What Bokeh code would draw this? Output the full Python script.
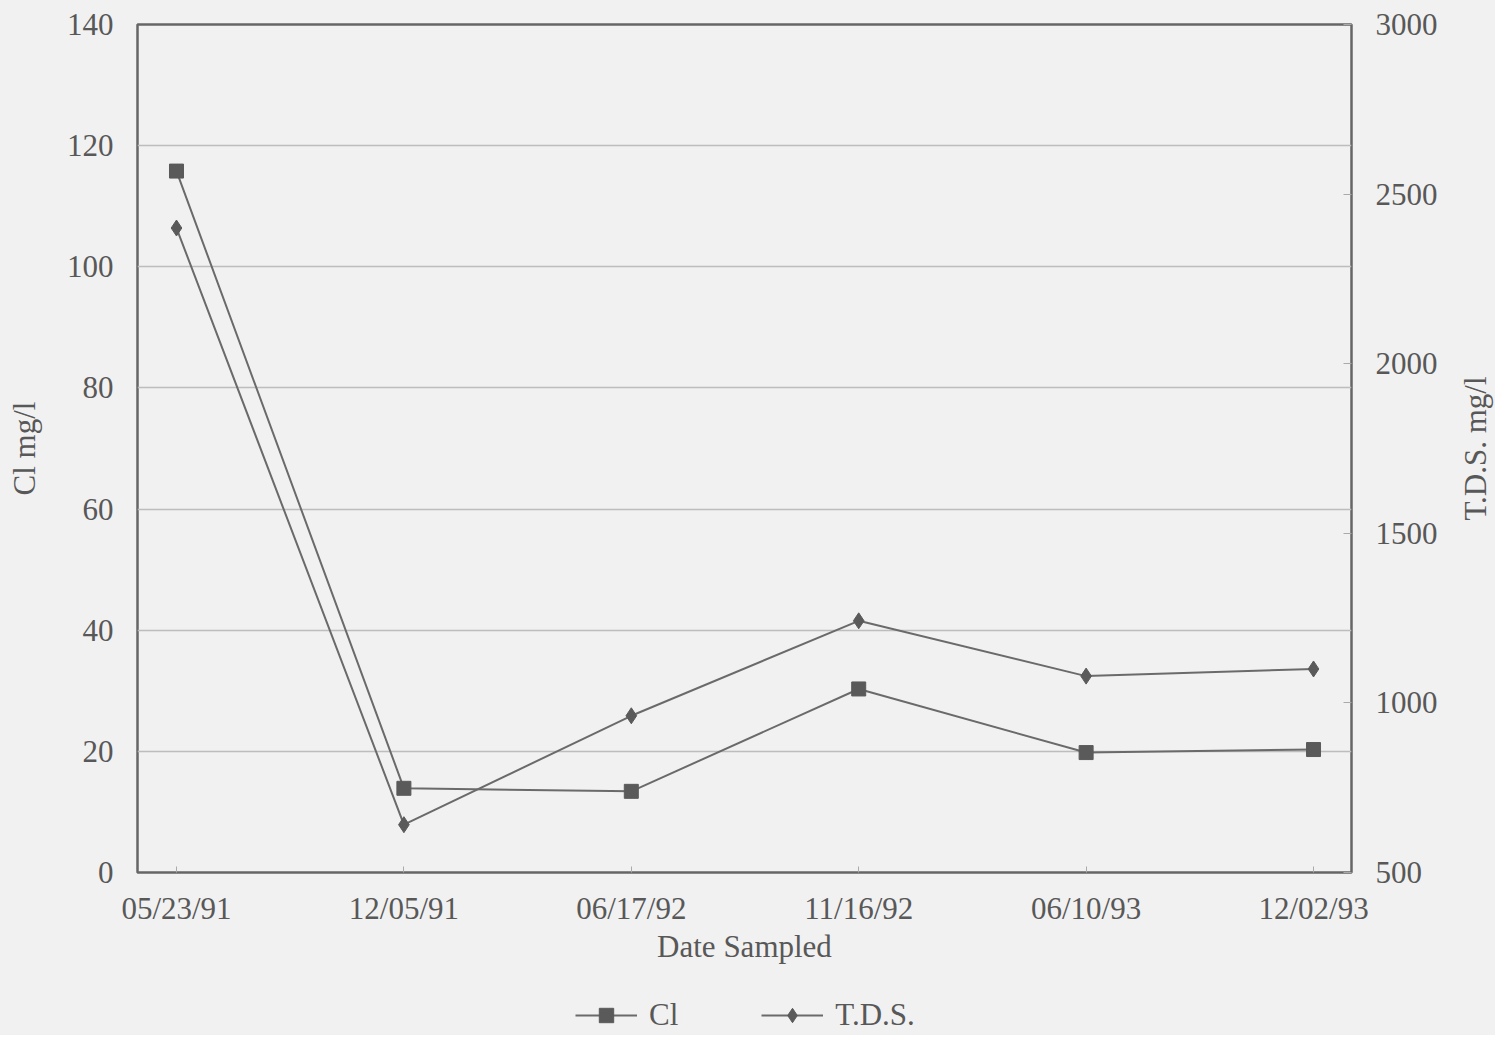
from bokeh.plotting import figure
from bokeh.layouts import row, column
from bokeh.models import (Range1d, LinearAxis, FixedTicker, Legend, LegendItem,
                          Label, ColumnDataSource)
from bokeh.embed import file_html
from bokeh.resources import INLINE
import math

# ---- data ----
dates = ["05/23/91", "12/05/91", "06/17/92", "11/16/92", "06/10/93", "12/02/93"]
cl_values = [115.8, 13.9, 13.4, 30.3, 19.8, 20.3]
tds_values = [2400, 641, 962, 1242, 1079, 1100]
cl_ticks = [0, 20, 40, 60, 80, 100, 120, 140]
tds_ticks = [500, 1000, 1500, 2000, 2500, 3000]

FONT = "Liberation Serif"
FS = "31px"
TXT = "#585858"
BG = "#f1f1f1"
LINE = "#6a6a6a"
MARK = "#5a5a5a"

xs = list(range(len(dates)))
src = ColumnDataSource(dict(x=xs, cl=cl_values, tds=tds_values))

TOP, BOTTOM, FH = 24, 103, 848

p = figure(frame_width=1214, frame_height=FH, output_backend="svg", toolbar_location=None,
           x_range=Range1d(-0.1715, 5.167), y_range=Range1d(0, 140),
           min_border_left=137, min_border_right=104, min_border_top=TOP,
           min_border_bottom=BOTTOM,
           background_fill_color=BG, border_fill_color=BG,
           outline_line_color="#666666", outline_line_width=2.5)
p.extra_y_ranges = {"tds": Range1d(500, 3000)}

# grid
p.xgrid.visible = False
p.ygrid.ticker = FixedTicker(ticks=cl_ticks)
p.ygrid.grid_line_color = "#bdbdbd"
p.ygrid.grid_line_width = 1.5

# x axis
xa = p.xaxis[0]
xa.ticker = FixedTicker(ticks=xs)
xa.major_label_overrides = {i: d for i, d in enumerate(dates)}
xa.axis_label = "Date Sampled"
xa.major_tick_in = 6
xa.major_tick_out = 0
xa.minor_tick_line_color = None
xa.major_tick_line_color = "#aaaaaa"
xa.axis_line_color = None
xa.major_label_standoff = 18
xa.axis_label_standoff = 0

# left axis
ya = p.yaxis[0]
ya.ticker = FixedTicker(ticks=cl_ticks)
ya.axis_label = "Cl mg/l"
ya.major_tick_in = 0
ya.major_tick_out = 0
ya.minor_tick_line_color = None
ya.axis_line_color = None
ya.major_label_standoff = 24
ya.axis_label_standoff = 22

# right axis
ra = LinearAxis(y_range_name="tds", ticker=FixedTicker(ticks=tds_ticks))
ra.major_tick_in = 8
ra.major_tick_out = 0
ra.major_tick_line_color = "#aaaaaa"
ra.minor_tick_line_color = None
ra.axis_line_color = None
ra.major_label_standoff = 24
p.add_layout(ra, "right")

for ax in (xa, ya, ra):
    ax.major_label_text_font = FONT
    ax.major_label_text_font_size = FS
    ax.major_label_text_color = TXT
    ax.axis_label_text_font = FONT
    ax.axis_label_text_font_size = FS
    ax.axis_label_text_font_style = "normal"
    ax.axis_label_text_color = TXT

# series
line_kw = dict(line_color=LINE, line_width=2)
sq_kw = dict(marker="square", size=14, fill_color=MARK, line_color=MARK)
di_kw = dict(marker="diamond", size=16, fill_color=MARK, line_color=MARK)

p.line("x", "cl", source=src, **line_kw)
p.scatter("x", "cl", source=src, **sq_kw)
p.line("x", "tds", source=src, y_range_name="tds", **line_kw)
p.scatter("x", "tds", source=src, y_range_name="tds", **di_kw)

# right-hand axis title, reading bottom-to-top, centred on the frame
rlab = figure(width=40, frame_height=FH, output_backend="svg", toolbar_location=None,
              x_range=Range1d(0, 1), y_range=Range1d(0, 140),
              x_axis_location=None, y_axis_location=None,
              min_border_left=0, min_border_right=0, min_border_top=TOP,
              min_border_bottom=BOTTOM, outline_line_color=None,
              background_fill_color=BG, border_fill_color=BG)
rlab.grid.visible = False
rlab.add_layout(Label(x=0.5, y=70, text="T.D.S. mg/l", angle=math.pi / 2,
                      text_align="center", text_baseline="middle",
                      text_font=FONT, text_font_size=FS, text_color=TXT))

# legend strip (its renderers share the data but lie outside this strip's view)
leg = figure(width=1495, height=60, output_backend="svg", toolbar_location=None,
             x_range=Range1d(-20, -19), y_range=Range1d(-20, -19),
             x_axis_location=None, y_axis_location=None, min_border=0,
             outline_line_color=None, background_fill_color=BG, border_fill_color=BG)
leg.grid.visible = False
l1 = leg.line("x", "cl", source=src, **line_kw)
m1 = leg.scatter("x", "cl", source=src, **sq_kw)
l2 = leg.line("x", "tds", source=src, **line_kw)
m2 = leg.scatter("x", "tds", source=src, **di_kw)
legend = Legend(items=[LegendItem(label="Cl", renderers=[l1, m1]),
                       LegendItem(label="T.D.S.", renderers=[l2, m2])],
                orientation="horizontal", location=(575, 2),
                border_line_color=None, background_fill_alpha=0,
                label_text_font=FONT, label_text_font_size=FS,
                label_text_color=TXT, glyph_width=62, glyph_height=36,
                spacing=83, label_standoff=12, padding=0, margin=0)
leg.add_layout(legend, "center")

top = row(p, rlab, spacing=0)
top.styles = {"background-color": BG}
layout = column(top, leg, spacing=0)
layout.styles = {"background-color": BG}
open("out.html", "w").write(file_html(layout, INLINE))
